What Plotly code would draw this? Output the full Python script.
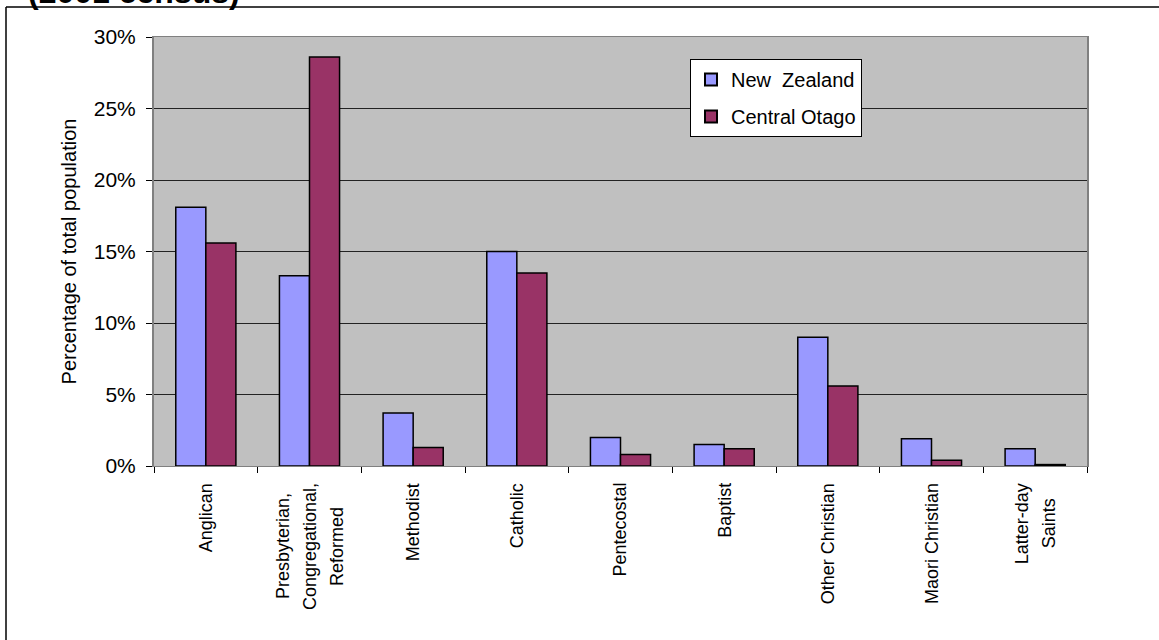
import plotly.graph_objects as go

categories = ["Anglican", "Presbyterian, Congregational, Reformed", "Methodist",
              "Catholic", "Pentecostal", "Baptist", "Other Christian",
              "Maori Christian", "Latter-day Saints"]
category_label_lines = [["Anglican"], ["Presbyterian,", "Congregational,", "Reformed"],
                        ["Methodist"], ["Catholic"], ["Pentecostal"], ["Baptist"],
                        ["Other Christian"], ["Maori Christian"], ["Latter-day", "Saints"]]
nz_values = [18.1, 13.3, 3.7, 15.0, 2.0, 1.5, 9.0, 1.9, 1.2]
co_values = [15.6, 28.6, 1.3, 13.5, 0.8, 1.2, 5.6, 0.4, 0.1]
y_ticks = [0, 5, 10, 15, 20, 25, 30]
y_tick_labels = ["0%", "5%", "10%", "15%", "20%", "25%", "30%"]

FONT = "Arial, Liberation Sans, sans-serif"
W, H = 1159, 640
L, R, T, B = 154, 1159 - 1087, 37, 640 - 466
pw, ph = W - L - R, H - T - B

# approximate Arial advance widths (em/1000) used to centre the rotated label lines
AW = {'a': 556, 'b': 556, 'c': 500, 'd': 556, 'e': 556, 'f': 278, 'g': 556, 'h': 556,
      'i': 222, 'l': 222, 'm': 833, 'n': 556, 'o': 556, 'p': 556, 'r': 333, 's': 500,
      't': 278, 'u': 556, 'y': 500, ',': 278, '-': 333, ' ': 278, 'A': 667, 'B': 667,
      'C': 722, 'L': 556, 'M': 833, 'O': 778, 'P': 667, 'R': 722, 'S': 667}


def text_len(s, size):
    return sum(AW.get(ch, 556) for ch in s) / 1000 * size


def px_x(x):
    return (x - L) / pw


def px_y(y):
    return 1 - (y - T) / ph


fig = go.Figure()
fig.add_trace(go.Bar(x=categories, y=nz_values, name="New\u00a0 Zealand",
                     marker=dict(color="#9999FF", line=dict(color="black", width=1.5)),
                     legendgroup="a"))
fig.add_trace(go.Bar(x=categories, y=co_values, name="Central Otago",
                     marker=dict(color="#993366", line=dict(color="black", width=1.5)),
                     legendgroup="b"))

XL_SIZE = 18
LINE_GAP = 27
LABEL_TOP = 483
annotations = [
    dict(text="<b>(2001 census)</b>", xref="paper", yref="paper",
         x=px_x(26), y=px_y(-8), xanchor="left", yanchor="middle",
         showarrow=False, font=dict(family=FONT, size=32, color="black")),
]
for cat, lines in zip(categories, category_label_lines):
    maxlen = max(text_len(s, XL_SIZE) for s in lines)
    cy = LABEL_TOP + maxlen / 2
    n = len(lines)
    for j, line in enumerate(lines):
        annotations.append(dict(
            text=line, xref="x", yref="paper", x=cat, y=px_y(cy),
            xanchor="center", yanchor="middle", textangle=-90, showarrow=False,
            xshift=(j - (n - 1) / 2) * LINE_GAP,
            font=dict(family=FONT, size=XL_SIZE, color="black")))

fig.update_layout(
    width=W, height=H,
    margin=dict(l=L, r=R, t=T, b=B, autoexpand=False),
    paper_bgcolor="white", plot_bgcolor="#C0C0C0",
    barmode="group", bargap=0.42, bargroupgap=0,
    font=dict(family=FONT, size=20, color="black"),
    showlegend=True,
    legend=dict(x=px_x(690), y=px_y(59), xanchor="left", yanchor="top",
                bgcolor="white", bordercolor="black", borderwidth=1,
                font=dict(family=FONT, size=20, color="black"),
                tracegroupgap=8, traceorder="grouped",
                itemwidth=30, itemsizing="constant"),
    xaxis=dict(showgrid=False, ticks="outside", tickson="boundaries", ticklen=6,
               tickcolor="black", showticklabels=False, showline=True,
               linecolor="#808080", linewidth=1, mirror=True, fixedrange=True),
    yaxis=dict(range=[0, 30], tickvals=y_ticks, ticktext=y_tick_labels,
               showgrid=True, gridcolor="#222222", gridwidth=1, ticks="outside",
               ticklen=6, tickcolor="black", showline=True, linecolor="#808080",
               linewidth=2, mirror=True, zeroline=False, fixedrange=True,
               tickfont=dict(size=21), ticklabelstandoff=6,
               title=dict(text="Percentage of total population", font=dict(size=20),
                          standoff=12)),
    shapes=[
        dict(type="line", xref="paper", yref="paper", x0=px_x(6), x1=px_x(1200),
             y0=px_y(7), y1=px_y(7), line=dict(color="black", width=1.5)),
        dict(type="line", xref="paper", yref="paper", x0=px_x(6), x1=px_x(6),
             y0=px_y(7), y1=px_y(700), line=dict(color="black", width=1.5)),
    ],
    annotations=annotations,
)

fig.write_html("out.html", config={"displayModeBar": False},
               post_script="document.body.style.margin='0';")
